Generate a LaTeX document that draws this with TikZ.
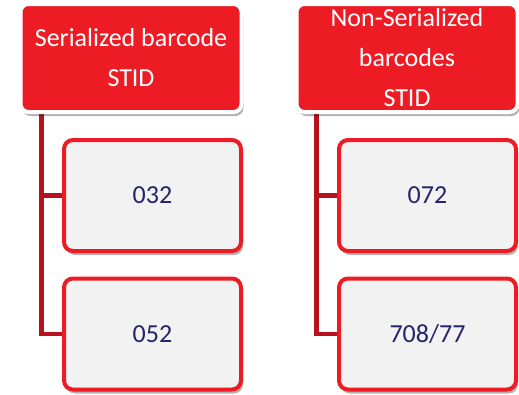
\documentclass[tikz,border=0pt]{standalone}
\usepackage{fontspec}
\setmainfont{Carlito}
\usepackage{xcolor}
\usetikzlibrary{shadows}
\usetikzlibrary{backgrounds}
\definecolor{hdrred}{HTML}{ED1C24}
\definecolor{linkred}{HTML}{B8121F}
\definecolor{boxgray}{HTML}{F2F2F2}
\definecolor{codeblue}{HTML}{25236B}
\tikzset{
  header/.style={draw=white, line width=4pt, fill=hdrred, rounded corners=8pt,
    minimum width=221pt, minimum height=108pt, inner sep=0pt, align=center,
    text=white, font=\fontsize{26}{40}\selectfont,
    drop shadow={shadow xshift=2pt, shadow yshift=-4pt, fill=black, opacity=0.3}},
  codebox/.style={draw=hdrred, line width=4pt, fill=boxgray, rounded corners=9pt,
    minimum width=177pt, minimum height=111pt, inner sep=0pt,
    text=codeblue, font=\fontsize{26}{32}\selectfont,
    drop shadow={shadow xshift=2pt, shadow yshift=-4pt, fill=black, opacity=0.3}},
  link/.style={draw=linkred, line width=4.5pt}
}
\begin{document}
\begin{tikzpicture}[x=1pt,y=-1pt]
\useasboundingbox (0,0) rectangle (519,394);
% serialized
\node[header] (hdrser) at (131,58) {Serialized barcode\\STID};
\node[codebox] (c032) at (152.5,195.5) {032};
\node[codebox] (c052) at (152.5,334) {052};
% non-serialized
\node[header] (hdrnon) at (407,58) {Non-Serialized\\barcodes\\STID};
\node[codebox] (c072) at (427.5,195.5) {072};
\node[codebox] (c708) at (427.5,334) {708/77};
% links
\begin{scope}[on background layer]
\coordinate (serfoot) at ([xshift=23pt]hdrser.south west);
\coordinate (nonfoot) at ([xshift=22pt]hdrnon.south west);
\draw[link] (serfoot) |- (c032.west);
\draw[link] (serfoot) |- (c052.west);
\draw[link] (nonfoot) |- (c072.west);
\draw[link] (nonfoot) |- (c708.west);
\end{scope}
\end{tikzpicture}
\end{document}
